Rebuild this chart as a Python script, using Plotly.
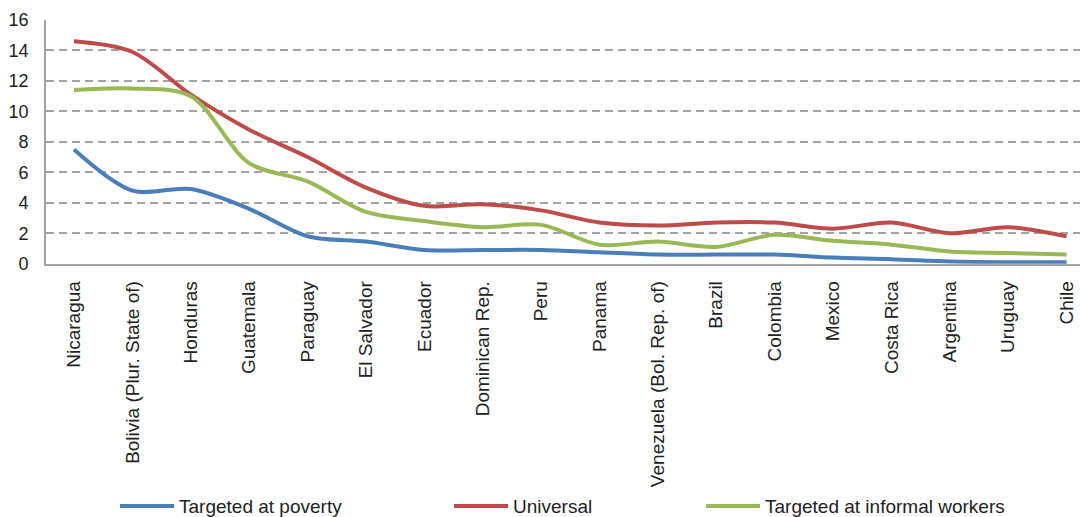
import plotly.graph_objects as go

countries = [
    "Nicaragua", "Bolivia (Plur. State of)", "Honduras", "Guatemala", "Paraguay",
    "El Salvador", "Ecuador", "Dominican Rep.", "Peru", "Panama",
    "Venezuela (Bol. Rep. of)", "Brazil", "Colombia", "Mexico", "Costa Rica",
    "Argentina", "Uruguay", "Chile",
]

targeted_poverty = [7.5, 4.8, 4.9, 3.6, 1.8, 1.45, 0.9, 0.9, 0.9, 0.75,
                    0.6, 0.6, 0.6, 0.4, 0.3, 0.15, 0.1, 0.1]
universal = [14.6, 13.9, 11.1, 8.8, 7.0, 5.0, 3.8, 3.9, 3.5, 2.7,
             2.5, 2.7, 2.7, 2.3, 2.7, 2.0, 2.4, 1.8]
targeted_informal = [11.4, 11.5, 11.0, 6.6, 5.4, 3.4, 2.8, 2.4, 2.55, 1.25,
                     1.45, 1.1, 1.9, 1.5, 1.25, 0.8, 0.7, 0.6]

series_names = ["Targeted at poverty", "Universal", "Targeted at informal workers"]
series_colors = ["#4A7EBB", "#BE4B48", "#98B954"]
legend_widths = [265, 183, 240]

y_ticks = [0, 2, 4, 6, 8, 10, 12, 14, 16]

FONT = "Liberation Sans, Arial, sans-serif"
TEXT = "#222222"
GRID = "#A3A3A3"

fig = go.Figure()
for name, vals, col, lw in zip(series_names,
                               [targeted_poverty, universal, targeted_informal],
                               series_colors, legend_widths):
    fig.add_trace(go.Scatter(
        x=countries, y=vals, name=name, mode="lines",
        line=dict(color=col, width=4, shape="spline", smoothing=0.9),
        legendwidth=lw,
    ))

fig.update_layout(
    width=1080, height=517,
    margin=dict(l=46, r=0, t=20, b=252),
    paper_bgcolor="white", plot_bgcolor="white",
    font=dict(family=FONT, size=19, color=TEXT),
    showlegend=True,
    legend=dict(
        orientation="h", xref="container", yref="container",
        x=0.1065, xanchor="left", y=0.021, yanchor="middle",
        itemwidth=54, font=dict(size=19, color=TEXT),
        bgcolor="rgba(0,0,0,0)", tracegroupgap=0,
    ),
)

fig.update_xaxes(
    type="category", range=[-0.48, 17.23],
    tickangle=-90, tickfont=dict(size=19, color=TEXT),
    showgrid=False, showline=True, linecolor=GRID, linewidth=1.75,
    ticks="", ticklabelstandoff=8, zeroline=False,
)
fig.update_yaxes(
    range=[0, 16], tickvals=y_ticks, ticktext=[str(v) for v in y_ticks],
    tickfont=dict(size=18, color=TEXT),
    showgrid=True, gridcolor=GRID, gridwidth=1.5, griddash="8px,5px",
    showline=True, linecolor=GRID, linewidth=1.75,
    ticks="", ticklabelstandoff=12, zeroline=False,
)

fig.write_html("out.html")
